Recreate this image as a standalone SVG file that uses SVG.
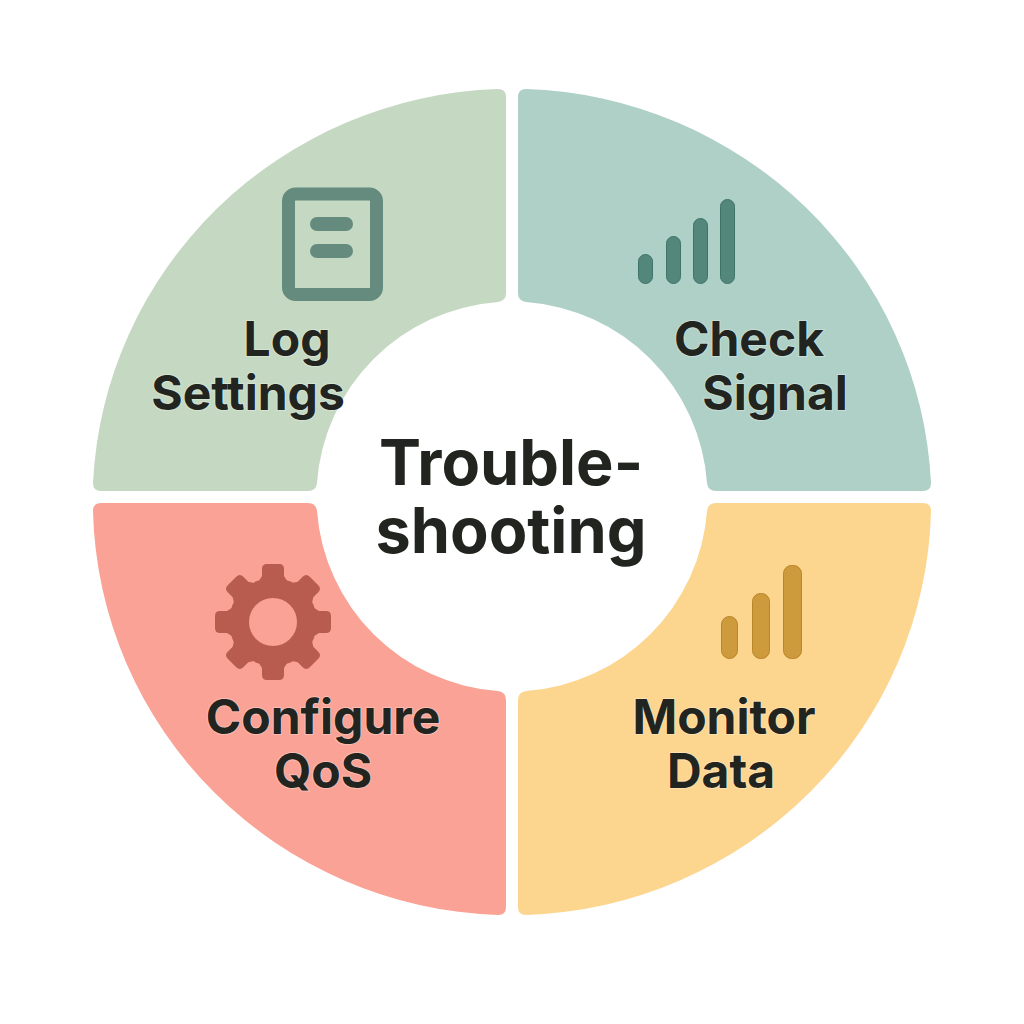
<svg xmlns="http://www.w3.org/2000/svg" width="1024" height="1024" viewBox="0 0 1024 1024">
<style>
text{font-family:"Inter","Liberation Sans",sans-serif;fill:#22251f;text-anchor:middle}
.l{font-size:48px;font-weight:700;paint-order:stroke;stroke:#fff;stroke-opacity:.3;stroke-width:2px}
.c{font-size:63px;font-weight:700}
.g{fill:#648b7e}
.t{fill:#54877c;stroke:#3f7268;stroke-width:1}
.o{fill:#cd9a3c;stroke:#b98528;stroke-width:1}
.r{fill:#b95c50}
</style>
<defs><path id="tooth" d="M-16 -38L-11 -46V-53Q-11 -58 -6 -58H6Q11 -58 11 -53V-46L16 -38Z"/></defs>
<rect width="1024" height="1024" fill="#fff"/>
<g id="log-settings">
<path fill="#c5d9c2" d="M101 491Q93 491 93 483A420 414 0 0 1 498 89Q506 89 506 97V293Q506 301 498 302A196 195 0 0 0 317 483Q316 491 308 491Z"/>
<rect style="fill:none;stroke:#648b7e;stroke-width:13" x="288.500" y="194" width="88" height="100.500" rx="7"/>
<rect class="g" x="310" y="217" width="43" height="14" rx="7"/>
<rect class="g" x="310" y="244" width="43" height="14" rx="7"/>
<text class="l" x="287" y="356">Log</text>
<text class="l" x="248" y="410">Settings</text>
</g>
<g id="check-signal">
<path fill="#afd0c6" d="M526 89A420 414 0 0 1 931 483Q931 491 923 491H716Q708 491 707 483A196 195 0 0 0 526 302Q518 301 518 293V97Q518 89 526 89Z"/>
<rect class="t" x="638.500" y="254.500" width="14" height="29" rx="7"/>
<rect class="t" x="666.500" y="236.500" width="14" height="47" rx="7"/>
<rect class="t" x="693.500" y="218.500" width="14" height="65" rx="7"/>
<rect class="t" x="720.500" y="199.500" width="14" height="84" rx="7"/>
<text class="l" x="749" y="356">Check</text>
<text class="l" x="775" y="410">Signal</text>
</g>
<g id="configure-qos">
<path fill="#f9a295" d="M101 503H308Q316 503 317 511A196 195 0 0 0 498 691Q506 692 506 700V907Q506 915 498 915A420 414 0 0 1 93 511Q93 503 101 503Z"/>
<circle class="r" cx="273" cy="622" r="44"/>
<g class="r" transform="translate(273 622)">
<use href="#tooth"/><use href="#tooth" transform="rotate(45)"/><use href="#tooth" transform="rotate(90)"/><use href="#tooth" transform="rotate(135)"/><use href="#tooth" transform="rotate(180)"/><use href="#tooth" transform="rotate(225)"/><use href="#tooth" transform="rotate(270)"/><use href="#tooth" transform="rotate(315)"/>
</g>
<circle cx="273" cy="622" r="24" fill="#f9a295"/>
<text class="l" x="323" y="734">Configure</text>
<text class="l" x="323" y="788">QoS</text>
</g>
<g id="monitor-data">
<path fill="#fcd58f" d="M716 503H923Q931 503 931 511A420 414 0 0 1 526 915Q518 915 518 907V700Q518 692 526 691A196 195 0 0 0 707 511Q708 503 716 503Z"/>
<rect class="o" x="721.500" y="616.500" width="16" height="42" rx="8"/>
<rect class="o" x="752.500" y="593.500" width="17" height="65" rx="8"/>
<rect class="o" x="783.500" y="565.500" width="18" height="93" rx="8"/>
<text class="l" x="724" y="734">Monitor</text>
<text class="l" x="721" y="788">Data</text>
</g>
<g id="center">
<text class="c" x="511" y="485">Trouble-</text>
<text class="c" x="511" y="553">shooting</text>
</g>
<g id="connectors"></g>
</svg>
